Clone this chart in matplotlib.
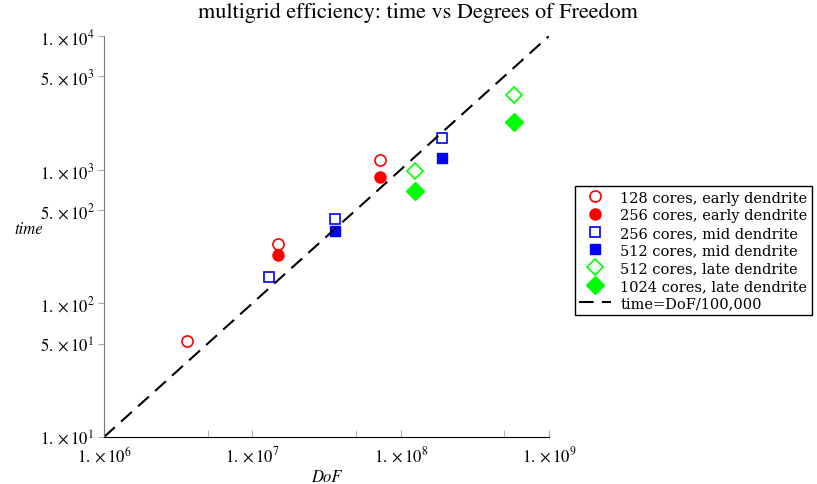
"""
plot.py

multigrid efficiency: time vs degrees of freedom (log-log scatter)
"""

import matplotlib
matplotlib.use("Agg")
import matplotlib.pyplot as plt
import numpy as np
from matplotlib.ticker import FixedLocator, FixedFormatter, NullLocator

plt.rcParams["mathtext.fontset"] = "stix"
plt.rcParams["font.family"] = ["STIXGeneral", "DejaVu Serif"]

# data (DoF, time)
dof_128_early = [3.6e6, 1.50e7, 7.3e7]
time_128_early = [52, 277, 1186]
dof_256_early = [1.50e7, 7.3e7]
time_256_early = [230, 885]

dof_256_mid = [1.30e7, 3.63e7, 1.89e8]
time_256_mid = [158, 427, 1714]
dof_512_mid = [3.63e7, 1.89e8]
time_512_mid = [345, 1222]

dof_512_late = [1.24e8, 5.85e8]
time_512_late = [977, 3597]
dof_1024_late = [1.24e8, 5.85e8]
time_1024_late = [688, 2259]

ref_dof = [1e6, 1e9]
ref_scale = 1e5

x_ticks = [1e6, 1e7, 1e8, 1e9]
x_labels = [r"$1.\times10^{6}$", r"$1.\times10^{7}$", r"$1.\times10^{8}$", r"$1.\times10^{9}$"]
x_minor = [5e6, 5e7, 5e8]
y_ticks = [1e1, 5e1, 1e2, 5e2, 1e3, 5e3, 1e4]
y_labels = [r"$1.\times10^{1}$", r"$5.\times10^{1}$", r"$1.\times10^{2}$", r"$5.\times10^{2}$",
            r"$1.\times10^{3}$", r"$5.\times10^{3}$", r"$1.\times10^{4}$"]

fig = plt.figure(figsize=(8.17, 4.85), dpi=100)
ax = fig.add_axes([0.1273, 0.0969, 0.5447, 0.8268])

red, blue, green = "#ff0000", "#0000ff", "#00ff00"

ax.plot(dof_128_early, time_128_early, "o", ls="none", ms=8, mfc="white", mec=red, mew=1.2,
        label="128 cores, early dendrite")
ax.plot(dof_256_early, time_256_early, "o", ls="none", ms=8, mfc=red, mec=red,
        label="256 cores, early dendrite")
ax.plot(dof_256_mid, time_256_mid, "s", ls="none", ms=7.5, mfc="white", mec=blue, mew=1.2,
        label="256 cores, mid dendrite")
ax.plot(dof_512_mid, time_512_mid, "s", ls="none", ms=7.5, mfc=blue, mec=blue,
        label="512 cores, mid dendrite")
ax.plot(dof_512_late, time_512_late, "D", ls="none", ms=8.5, mfc="white", mec=green, mew=1.2,
        label="512 cores, late dendrite")
ax.plot(dof_1024_late, time_1024_late, "D", ls="none", ms=9, mfc=green, mec=green,
        label="1024 cores, late dendrite")
ax.plot(ref_dof, np.array(ref_dof) / ref_scale, color="black", lw=1.5,
        dashes=(7, 4), label="time=DoF/100,000")

ax.set_xscale("log")
ax.set_yscale("log")
ax.set_xlim(1e6, 1e9)
ax.set_ylim(1e1, 1e4)

ax.xaxis.set_major_locator(FixedLocator(x_ticks))
ax.xaxis.set_major_formatter(FixedFormatter(x_labels))
ax.xaxis.set_minor_locator(FixedLocator(x_minor))
ax.yaxis.set_major_locator(FixedLocator(y_ticks))
ax.yaxis.set_major_formatter(FixedFormatter(y_labels))
ax.yaxis.set_minor_locator(NullLocator())

ax.spines["top"].set_visible(False)
ax.spines["right"].set_visible(False)
ax.spines["left"].set_color("#777777")
ax.spines["bottom"].set_color("black")
ax.tick_params(axis="x", which="both", direction="in", length=5, color="#aaaaaa",
               labelsize=12, pad=6)
ax.tick_params(axis="y", direction="out", length=4, color="#aaaaaa", labelsize=12, pad=3)

ax.set_xlabel("DoF", fontstyle="italic", fontsize=12, labelpad=2)
ax.set_ylabel("time", fontstyle="italic", fontsize=12, rotation=0, labelpad=0)
ax.yaxis.set_label_coords(-0.17, 0.5)
fig.suptitle("multigrid efficiency: time vs Degrees of Freedom", fontsize=16,
             x=0.511, y=0.995)

leg = ax.legend(loc="center left", bbox_to_anchor=(1.058, 0.465), fancybox=False,
                framealpha=1, edgecolor="black", borderpad=0.3, labelspacing=0.25,
                handlelength=2.2, handletextpad=0.6, borderaxespad=0,
                prop={"family": "DejaVu Serif", "size": 10.5})
leg.get_frame().set_linewidth(1.0)

fig.savefig("out.png", dpi=100)
